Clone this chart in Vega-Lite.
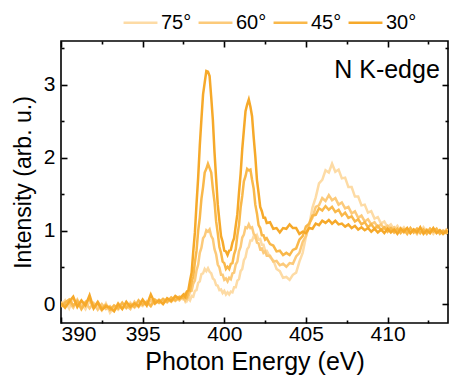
{
  "$schema": "https://vega.github.io/schema/vega-lite/v6.json",
  "width": 387,
  "height": 282,
  "autosize": "none",
  "padding": {"left": 61, "top": 41, "right": 2, "bottom": 62},
  "background": "white",
  "config": {
    "font": "Liberation Sans",
    "view": {"stroke": "#000", "strokeWidth": 1.6},
    "axis": {
      "domain": false, "grid": false, "tickColor": "#000", "tickWidth": 1.6,
      "labelColor": "#000", "labelFontSize": 21, "labelFont": "Liberation Sans",
      "titleFontSize": 25, "titleFontWeight": "normal", "titleColor": "#000", "titleFont": "Liberation Sans"
    },
    "legend": {
      "orient": "none", "legendX": 61, "legendY": -37, "direction": "horizontal",
      "symbolType": "stroke", "symbolSize": 1150, "symbolStrokeWidth": 2.6,
      "labelFontSize": 20, "labelFont": "Liberation Sans", "labelColor": "#000",
      "labelOffset": 2, "columnPadding": 1
    }
  },
  "datasets": {
    "spec": [
      {"E":390.00,"75°":-0.02,"60°":0.03,"45°":-0.04,"30°":0.01},
      {"E":390.25,"75°":0.05,"60°":-0.03,"45°":0.02,"30°":-0.05},
      {"E":390.50,"75°":-0.06,"60°":0.02,"45°":0.06,"30°":0.03},
      {"E":390.75,"75°":0.08,"60°":-0.05,"45°":-0.02,"30°":0.10},
      {"E":391.00,"75°":-0.03,"60°":0.06,"45°":0.04,"30°":-0.04},
      {"E":391.25,"75°":0.02,"60°":-0.04,"45°":-0.07,"30°":0.05},
      {"E":391.50,"75°":-0.07,"60°":0.03,"45°":0.02,"30°":-0.02},
      {"E":391.75,"75°":0.04,"60°":-0.06,"45°":0.07,"30°":0.12},
      {"E":392.00,"75°":-0.05,"60°":0.01,"45°":-0.05,"30°":-0.06},
      {"E":392.25,"75°":-0.02,"60°":-0.08,"45°":0.03,"30°":0.02},
      {"E":392.50,"75°":-0.09,"60°":0.00,"45°":-0.06,"30°":-0.08},
      {"E":392.75,"75°":0.01,"60°":-0.07,"45°":-0.01,"30°":-0.03},
      {"E":393.00,"75°":-0.12,"60°":-0.03,"45°":-0.08,"30°":-0.05},
      {"E":393.25,"75°":-0.04,"60°":-0.09,"45°":-0.02,"30°":-0.10},
      {"E":393.50,"75°":-0.08,"60°":0.01,"45°":-0.06,"30°":0.00},
      {"E":393.75,"75°":-0.01,"60°":-0.06,"45°":0.02,"30°":-0.07},
      {"E":394.00,"75°":-0.06,"60°":-0.02,"45°":-0.05,"30°":0.03},
      {"E":394.25,"75°":0.02,"60°":-0.07,"45°":0.00,"30°":-0.04},
      {"E":394.50,"75°":-0.05,"60°":0.03,"45°":-0.04,"30°":0.01},
      {"E":394.75,"75°":0.00,"60°":-0.04,"45°":0.05,"30°":-0.03},
      {"E":395.00,"75°":-0.03,"60°":0.04,"45°":-0.01,"30°":0.06},
      {"E":395.25,"75°":0.04,"60°":-0.01,"45°":0.03,"30°":-0.02},
      {"E":395.50,"75°":-0.01,"60°":0.05,"45°":-0.03,"30°":0.13},
      {"E":395.75,"75°":0.05,"60°":0.00,"45°":0.06,"30°":0.01},
      {"E":396.00,"75°":0.01,"60°":0.06,"45°":0.02,"30°":0.05},
      {"E":396.25,"75°":0.06,"60°":0.02,"45°":0.07,"30°":0.00},
      {"E":396.50,"75°":0.02,"60°":0.07,"45°":0.03,"30°":0.08},
      {"E":396.75,"75°":0.08,"60°":0.03,"45°":0.09,"30°":0.04},
      {"E":397.00,"75°":0.04,"60°":0.09,"45°":0.05,"30°":0.11},
      {"E":397.25,"75°":0.09,"60°":0.05,"45°":0.10,"30°":0.07},
      {"E":397.50,"75°":0.06,"60°":0.11,"45°":0.08,"30°":0.13},
      {"E":397.6,"75°":0.07,"60°":0.05,"45°":0.13,"30°":0.10},
      {"E":397.7,"75°":0.04,"60°":0.12,"45°":0.09,"30°":0.17},
      {"E":397.8,"75°":0.08,"60°":0.10,"45°":0.17,"30°":0.19},
      {"E":397.9,"75°":0.05,"60°":0.17,"45°":0.18,"30°":0.32},
      {"E":398.0,"75°":0.11,"60°":0.18,"45°":0.30,"30°":0.43},
      {"E":398.1,"75°":0.10,"60°":0.28,"45°":0.38,"30°":0.72},
      {"E":398.2,"75°":0.18,"60°":0.32,"45°":0.57,"30°":0.98},
      {"E":398.3,"75°":0.19,"60°":0.46,"45°":0.73,"30°":1.37},
      {"E":398.4,"75°":0.29,"60°":0.54,"45°":1.00,"30°":1.73},
      {"E":398.5,"75°":0.31,"60°":0.70,"45°":1.18,"30°":2.17},
      {"E":398.6,"75°":0.41,"60°":0.77,"45°":1.44,"30°":2.53},
      {"E":398.7,"75°":0.42,"60°":0.90,"45°":1.60,"30°":2.87},
      {"E":398.8,"75°":0.48,"60°":0.93,"45°":1.80,"30°":3.03},
      {"E":398.9,"75°":0.45,"60°":1.01,"45°":1.85,"30°":3.19},
      {"E":399.0,"75°":0.49,"60°":0.99,"45°":1.92,"30°":3.18},
      {"E":399.1,"75°":0.44,"60°":1.02,"45°":1.86,"30°":3.12},
      {"E":399.2,"75°":0.42,"60°":0.93,"45°":1.80,"30°":2.83},
      {"E":399.3,"75°":0.35,"60°":0.89,"45°":1.58,"30°":2.52},
      {"E":399.4,"75°":0.33,"60°":0.75,"45°":1.40,"30°":2.08},
      {"E":399.5,"75°":0.26,"60°":0.68,"45°":1.13,"30°":1.72},
      {"E":399.6,"75°":0.25,"60°":0.54,"45°":0.97,"30°":1.36},
      {"E":399.7,"75°":0.19,"60°":0.50,"45°":0.78,"30°":1.14},
      {"E":399.8,"75°":0.20,"60°":0.40,"45°":0.70,"30°":0.93},
      {"E":399.9,"75°":0.15,"60°":0.40,"45°":0.58,"30°":0.85},
      {"E":400.0,"75°":0.18,"60°":0.33,"45°":0.56,"30°":0.73},
      {"E":400.1,"75°":0.13,"60°":0.35,"45°":0.48,"30°":0.72},
      {"E":400.2,"75°":0.16,"60°":0.31,"45°":0.51,"30°":0.67},
      {"E":400.3,"75°":0.13,"60°":0.36,"45°":0.48,"30°":0.73},
      {"E":400.4,"75°":0.17,"60°":0.34,"45°":0.55,"30°":0.74},
      {"E":400.5,"75°":0.16,"60°":0.42,"45°":0.56,"30°":0.84},
      {"E":400.6,"75°":0.23,"60°":0.43,"45°":0.68,"30°":0.90},
      {"E":400.7,"75°":0.23,"60°":0.54,"45°":0.75,"30°":1.07},
      {"E":400.8,"75°":0.32,"60°":0.58,"45°":0.94,"30°":1.23},
      {"E":400.9,"75°":0.34,"60°":0.72,"45°":1.08,"30°":1.52},
      {"E":401.0,"75°":0.45,"60°":0.78,"45°":1.32,"30°":1.78},
      {"E":401.1,"75°":0.48,"60°":0.91,"45°":1.48,"30°":2.12},
      {"E":401.2,"75°":0.60,"60°":0.95,"45°":1.68,"30°":2.38},
      {"E":401.3,"75°":0.64,"60°":1.05,"45°":1.75,"30°":2.64},
      {"E":401.4,"75°":0.75,"60°":1.04,"45°":1.85,"30°":2.73},
      {"E":401.5,"75°":0.78,"60°":1.09,"45°":1.83,"30°":2.80},
      {"E":401.6,"75°":0.87,"60°":1.04,"45°":1.84,"30°":2.70},
      {"E":401.7,"75°":0.87,"60°":1.05,"45°":1.70,"30°":2.57},
      {"E":401.8,"75°":0.93,"60°":0.96,"45°":1.58,"30°":2.28},
      {"E":401.9,"75°":0.90,"60°":0.94,"45°":1.36,"30°":2.02},
      {"E":402.0,"75°":0.94,"60°":0.84,"45°":1.24,"30°":1.70},
      {"E":402.1,"75°":0.88,"60°":0.83,"45°":1.08,"30°":1.52},
      {"E":402.2,"75°":0.89,"60°":0.75,"45°":1.04,"30°":1.33},
      {"E":402.3,"75°":0.81,"60°":0.76,"45°":0.94,"30°":1.27},
      {"E":402.4,"75°":0.81,"60°":0.70,"45°":0.94,"30°":1.18},
      {"E":402.5,"75°":0.73,"60°":0.72,"45°":0.88,"30°":1.18},
      {"E":402.6,"75°":0.73,"60°":0.66,"45°":0.90,"30°":1.11},
      {"E":402.8,"75°":0.64,"60°":0.66,"45°":0.82,"30°":1.12},
      {"E":403.0,"75°":0.60,"60°":0.58,"45°":0.80,"30°":1.03},
      {"E":403.2,"75°":0.48,"60°":0.59,"45°":0.72,"30°":1.04},
      {"E":403.4,"75°":0.45,"60°":0.53,"45°":0.73,"30°":0.98},
      {"E":403.6,"75°":0.36,"60°":0.55,"45°":0.67,"30°":1.04},
      {"E":403.8,"75°":0.37,"60°":0.51,"45°":0.70,"30°":1.03},
      {"E":404.0,"75°":0.33,"60°":0.56,"45°":0.67,"30°":1.09},
      {"E":404.2,"75°":0.40,"60°":0.55,"45°":0.74,"30°":1.04},
      {"E":404.4,"75°":0.43,"60°":0.65,"45°":0.76,"30°":1.04},
      {"E":404.6,"75°":0.58,"60°":0.70,"45°":0.88,"30°":0.96},
      {"E":404.8,"75°":0.70,"60°":0.85,"45°":0.93,"30°":0.99},
      {"E":405.0,"75°":0.92,"60°":0.93,"45°":1.06,"30°":0.97},
      {"E":405.2,"75°":1.08,"60°":1.10,"45°":1.10,"30°":1.04},
      {"E":405.4,"75°":1.32,"60°":1.18,"45°":1.21,"30°":1.03},
      {"E":405.6,"75°":1.46,"60°":1.33,"45°":1.22,"30°":1.10},
      {"E":405.8,"75°":1.65,"60°":1.35,"45°":1.31,"30°":1.08},
      {"E":406.0,"75°":1.70,"60°":1.45,"45°":1.28,"30°":1.14},
      {"E":406.2,"75°":1.83,"60°":1.41,"45°":1.34,"30°":1.11},
      {"E":406.4,"75°":1.80,"60°":1.49,"45°":1.29,"30°":1.15},
      {"E":406.6,"75°":1.92,"60°":1.42,"45°":1.33,"30°":1.10},
      {"E":406.8,"75°":1.81,"60°":1.45,"45°":1.26,"30°":1.14},
      {"E":407.0,"75°":1.84,"60°":1.36,"45°":1.29,"30°":1.09},
      {"E":407.2,"75°":1.72,"60°":1.39,"45°":1.21,"30°":1.10},
      {"E":407.4,"75°":1.73,"60°":1.31,"45°":1.25,"30°":1.06},
      {"E":407.6,"75°":1.60,"60°":1.33,"45°":1.18,"30°":1.09},
      {"E":407.8,"75°":1.60,"60°":1.24,"45°":1.20,"30°":1.04},
      {"E":408.0,"75°":1.47,"60°":1.27,"45°":1.13,"30°":1.07},
      {"E":408.2,"75°":1.47,"60°":1.18,"45°":1.16,"30°":1.02},
      {"E":408.4,"75°":1.35,"60°":1.21,"45°":1.09,"30°":1.05},
      {"E":408.6,"75°":1.36,"60°":1.13,"45°":1.12,"30°":1.01},
      {"E":408.8,"75°":1.25,"60°":1.16,"45°":1.05,"30°":1.04},
      {"E":409.0,"75°":1.27,"60°":1.09,"45°":1.09,"30°":0.99},
      {"E":409.2,"75°":1.17,"60°":1.12,"45°":1.03,"30°":1.03},
      {"E":409.4,"75°":1.19,"60°":1.05,"45°":1.07,"30°":0.98},
      {"E":409.6,"75°":1.10,"60°":1.09,"45°":1.01,"30°":1.02},
      {"E":409.8,"75°":1.13,"60°":1.03,"45°":1.05,"30°":0.97},
      {"E":410.0,"75°":1.05,"60°":1.07,"45°":0.99,"30°":1.03},
      {"E":410.2,"75°":1.09,"60°":1.01,"45°":1.04,"30°":0.98},
      {"E":410.4,"75°":1.02,"60°":1.05,"45°":0.98,"30°":1.02},
      {"E":410.6,"75°":1.07,"60°":0.99,"45°":1.03,"30°":0.96},
      {"E":410.8,"75°":1.00,"60°":1.04,"45°":0.97,"30°":1.03},
      {"E":411.0,"75°":1.05,"60°":0.98,"45°":1.02,"30°":0.99},
      {"E":411.2,"75°":0.99,"60°":1.03,"45°":0.96,"30°":1.04},
      {"E":411.4,"75°":1.04,"60°":0.97,"45°":1.04,"30°":0.97},
      {"E":411.6,"75°":0.98,"60°":1.02,"45°":0.98,"30°":1.02},
      {"E":411.8,"75°":1.03,"60°":0.96,"45°":1.03,"30°":0.98},
      {"E":412.0,"75°":0.97,"60°":1.04,"45°":0.97,"30°":1.05},
      {"E":412.2,"75°":1.05,"60°":0.98,"45°":1.02,"30°":0.96},
      {"E":412.4,"75°":0.99,"60°":1.02,"45°":0.96,"30°":1.01},
      {"E":412.6,"75°":1.03,"60°":0.97,"45°":1.03,"30°":0.97},
      {"E":412.8,"75°":0.96,"60°":1.03,"45°":0.99,"30°":1.04},
      {"E":413.0,"75°":1.02,"60°":0.98,"45°":1.03,"30°":0.97},
      {"E":413.2,"75°":0.98,"60°":1.01,"45°":0.96,"30°":1.01},
      {"E":413.4,"75°":1.01,"60°":0.97,"45°":1.00,"30°":0.96},
      {"E":413.6,"75°":0.97,"60°":1.02,"45°":0.97,"30°":1.00},
      {"E":413.8,"75°":1.00,"60°":0.98,"45°":1.01,"30°":0.98}
    ],
    "lab": [{"E": 413.2, "v": 3.2, "t": "N K-edge"}]
  },
  "layer": [
    {
      "data": {"name": "spec"},
      "transform": [{"fold": ["75°", "60°", "45°", "30°"], "as": ["angle", "v"]}],
      "mark": {"type": "line", "strokeWidth": 2.5, "clip": true},
      "encoding": {
        "x": {"field": "E", "type": "quantitative",
              "scale": {"domain": [390, 413.7], "nice": false, "zero": false},
              "axis": {"orient": "bottom", "values": [390, 395, 400, 405, 410], "tickSize": -6, "labelPadding": 6, "title": "Photon Energy (eV)", "titlePadding": 5}},
        "y": {"field": "v", "type": "quantitative",
              "scale": {"domain": [-0.26, 3.6], "nice": false, "zero": false},
              "axis": {"orient": "left", "values": [0, 1, 2, 3], "tickSize": -6, "labelPadding": 12, "title": "Intensity (arb. u.)", "titleFontSize": 23, "titlePadding": 8}},
        "color": {"field": "angle", "type": "nominal",
                  "scale": {"domain": ["75°", "60°", "45°", "30°"], "range": ["#fddba5", "#fcca7a", "#f9b84a", "#f6a92a"]},
                  "legend": {"title": null}}
      }
    },
    {
      "data": {"name": "lab"},
      "mark": {"type": "text", "align": "right", "baseline": "middle", "fontSize": 25, "font": "Liberation Sans", "color": "#000"},
      "encoding": {
        "x": {"field": "E", "type": "quantitative", "axis": null},
        "y": {"field": "v", "type": "quantitative", "axis": null},
        "text": {"field": "t"}
      }
    },
    {
      "data": {"name": "lab"},
      "mark": {"type": "point", "opacity": 0},
      "encoding": {
        "x": {"field": "E", "type": "quantitative",
              "axis": {"orient": "bottom", "values": [392.5, 397.5, 402.5, 407.5, 412.5], "tickSize": -3, "labels": false, "title": null}},
        "y": {"field": "v", "type": "quantitative",
              "axis": {"orient": "left", "values": [0.5, 1.5, 2.5, 3.5], "tickSize": -3, "labels": false, "title": null}}
      }
    },
    {
      "data": {"name": "lab"},
      "mark": {"type": "point", "opacity": 0},
      "encoding": {
        "x": {"field": "E", "type": "quantitative",
              "axis": {"orient": "top", "values": [390, 395, 400, 405, 410], "tickSize": -6, "labels": false, "title": null}},
        "y": {"field": "v", "type": "quantitative",
              "axis": {"orient": "right", "values": [0, 1, 2, 3], "tickSize": -6, "labels": false, "title": null}}
      }
    },
    {
      "data": {"name": "lab"},
      "mark": {"type": "point", "opacity": 0},
      "encoding": {
        "x": {"field": "E", "type": "quantitative",
              "axis": {"orient": "top", "values": [392.5, 397.5, 402.5, 407.5, 412.5], "tickSize": -3, "labels": false, "title": null}},
        "y": {"field": "v", "type": "quantitative",
              "axis": {"orient": "right", "values": [0.5, 1.5, 2.5, 3.5], "tickSize": -3, "labels": false, "title": null}}
      }
    }
  ],
  "resolve": {"axis": {"x": "independent", "y": "independent"}}
}
